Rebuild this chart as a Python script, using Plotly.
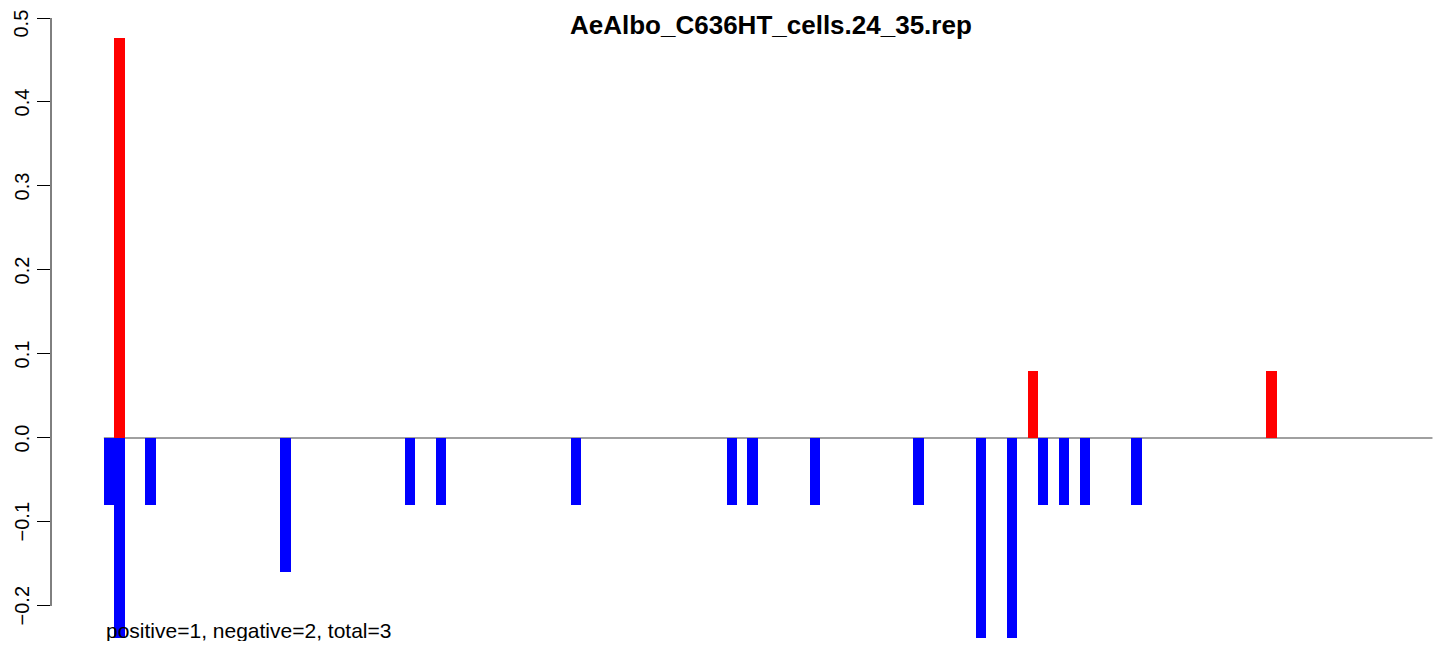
import plotly.graph_objects as go

# ---- data ----
title_text = "AeAlbo_C636HT_cells.24_35.rep"
n_bins = 128
pos_x = [1, 89, 112]
pos_y = [0.476, 0.0794, 0.0794]
neg_x = [0, 1, 4, 17, 29, 32, 45, 60, 62, 68, 78, 84, 87, 90, 92, 94, 99]
neg_y = [-0.0794, -0.238, -0.0794, -0.159, -0.0794, -0.0794, -0.0794, -0.0794,
         -0.0794, -0.0794, -0.0794, -0.238, -0.238, -0.0794, -0.0794, -0.0794, -0.0794]
y_ticks = [-0.2, -0.1, 0.0, 0.1, 0.2, 0.3, 0.4, 0.5]
y_ticklabels = ["\u22120.2", "\u22120.1", "0.0", "0.1", "0.2", "0.3", "0.4", "0.5"]
summary_text = "positive=1, negative=2, total=3"

FONT = "Liberation Sans, Arial, Helvetica, sans-serif"

fig = go.Figure()
fig.add_trace(go.Bar(x=neg_x, y=neg_y, width=1.0, marker=dict(color="#0000FF", line=dict(width=0)),
                     showlegend=False, hoverinfo="x+y"))
fig.add_trace(go.Bar(x=pos_x, y=pos_y, width=1.0, marker=dict(color="#FF0000", line=dict(width=0)),
                     showlegend=False, hoverinfo="x+y"))

# zero line across all bins
fig.add_shape(type="line", xref="x", yref="y", x0=-0.5, x1=n_bins - 0.5, y0=0, y1=0,
              line=dict(color="#808080", width=1.3), layer="below")
# y axis line only over tick span
fig.add_shape(type="line", xref="paper", yref="y", x0=0, x1=0, y0=y_ticks[0], y1=y_ticks[-1],
              line=dict(color="black", width=1))

# rotated y tick labels (the top one is kept inside the page)
LAB_X = -0.0213
for v, lab in zip(y_ticks, y_ticklabels):
    if v == max(y_ticks):
        fig.add_annotation(text=lab, xref="paper", yref="paper", x=LAB_X, y=1.0,
                           xanchor="center", yanchor="top", textangle=-90, showarrow=False,
                           borderpad=0, font=dict(family=FONT, size=20, color="black"))
    else:
        fig.add_annotation(text=lab, xref="paper", yref="y", x=LAB_X, y=v,
                           xanchor="center", yanchor="middle", textangle=-90, showarrow=False,
                           borderpad=0, font=dict(family=FONT, size=20, color="black"))

fig.add_annotation(text="<b>" + title_text + "</b>", xref="paper", yref="paper", x=0.5199, y=1.0,
                   xanchor="center", yanchor="top", showarrow=False,
                   font=dict(family=FONT, size=26, color="black"))

fig.add_annotation(text=summary_text, xref="x", yref="paper", x=-0.5, y=-0.0047,
                   xanchor="left", yanchor="bottom", showarrow=False,
                   font=dict(family=FONT, size=21, color="black"))

# page body has an 8px margin: figure sized so it fits the 1444x649 window exactly
fig.update_layout(
    width=1428, height=633,
    margin=dict(l=43, r=0, t=0, b=0, autoexpand=False),
    paper_bgcolor="white", plot_bgcolor="white",
    barmode="overlay", bargap=0,
    font=dict(family=FONT, color="black"),
    xaxis=dict(visible=False, range=[-5.59, 127.84], automargin=False),
    yaxis=dict(range=[-0.2417, 0.5119], showgrid=False, zeroline=False, showline=False,
               automargin=False, showticklabels=False,
               ticks="outside", ticklen=13, tickwidth=1, tickcolor="black",
               tickvals=y_ticks),
)

fig.write_html("out.html")
